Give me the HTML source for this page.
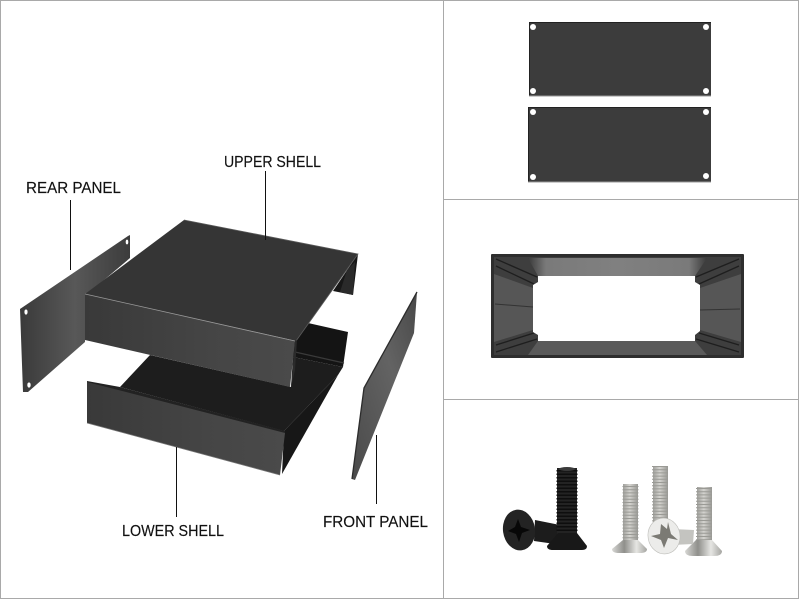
<!DOCTYPE html>
<html><head><meta charset="utf-8"><style>
html,body{margin:0;padding:0;background:#fff}
svg{display:block}
text{font-family:"Liberation Sans",sans-serif;font-size:15.500px;fill:#111;stroke:#111;stroke-width:.15}
</style></head><body>
<svg width="800" height="600" viewBox="0 0 800 600" xmlns="http://www.w3.org/2000/svg">
<defs>
<linearGradient id="rear" x1="0" y1="0" x2="1" y2="0"><stop offset="0" stop-color="#3a3a3a"/><stop offset=".5" stop-color="#585858"/><stop offset="1" stop-color="#3c3c3c"/></linearGradient>
<linearGradient id="face" x1="0" y1="0" x2="1" y2="0"><stop offset="0" stop-color="#393939"/><stop offset=".6" stop-color="#454545"/><stop offset="1" stop-color="#4a4a4a"/></linearGradient>
<linearGradient id="front" x1="0" y1="1" x2="1" y2="0"><stop offset="0" stop-color="#4a4a4a"/><stop offset=".6" stop-color="#636363"/><stop offset="1" stop-color="#484848"/></linearGradient>
<linearGradient id="tb" x1="0" y1="0" x2="1" y2="0"><stop offset="0" stop-color="#3a3a3a"/><stop offset=".1" stop-color="#7a7a7a"/><stop offset=".5" stop-color="#808080"/><stop offset=".9" stop-color="#7a7a7a"/><stop offset="1" stop-color="#3a3a3a"/></linearGradient>
<linearGradient id="silver" x1="0" y1="0" x2="1" y2="0"><stop offset="0" stop-color="#a0a09c"/><stop offset=".45" stop-color="#d4d3cf"/><stop offset="1" stop-color="#989894"/></linearGradient>
<linearGradient id="shead" x1="0" y1="0" x2="1" y2="0"><stop offset="0" stop-color="#d8d8d5"/><stop offset=".35" stop-color="#8f8f8b"/><stop offset=".7" stop-color="#e6e6e3"/><stop offset="1" stop-color="#a5a5a1"/></linearGradient>
</defs>

<!-- grid -->
<g stroke="#a9a9a9" stroke-width="1" fill="none">
<rect x="0.5" y="0.5" width="798" height="598"/>
<path d="M443.500 0V599M443 199.500H799M443 399.500H799"/>
</g>

<!-- rear panel -->
<polygon points="20,309 128,236 130,235 130,258 85,296 85,342 28,392 23,392" fill="url(#rear)"/>
<ellipse cx="26" cy="312" rx="1.600" ry="2.600" fill="#fff"/>
<ellipse cx="127" cy="242" rx="1.300" ry="2.400" fill="#fff"/>
<ellipse cx="29" cy="385" rx="1.700" ry="2.600" fill="#fff"/>

<!-- lower shell -->
<polygon points="308,323 348,332 343,367 293,357 293,343" fill="#141414"/>
<path d="M295 352L344 363" stroke="#3a3a3a" stroke-width="1.200"/>
<polygon points="150,355 291,387 293,357 343,367 338,375 284,431 120,387" fill="#1d1d1d"/>
<polygon points="284,431 338,375 282,474" fill="#171717"/>
<polygon points="87,381 120,387 285,431 285,435 87,384" fill="#222"/>
<polygon points="87,382 285,433 280,475 87,423" fill="url(#face)"/>
<line x1="87" y1="423" x2="280" y2="475" stroke="#777" stroke-width=".7"/>

<!-- upper shell -->
<polygon points="333,291 358,254 353,295" fill="#171717"/>
<polygon points="347,270 355,262 353,295 340,292" fill="#2a2a2a"/>
<polygon points="184,220 358,254 296,341 85,294" fill="#353535"/>
<polygon points="85,294 295,341 290,387 85,340" fill="url(#face)"/>
<polyline points="85,294 295,341" fill="none" stroke="#999" stroke-width=".8"/>
<polyline points="184,220 358,254 296,341" fill="none" stroke="#5c5c5c" stroke-width=".8"/>
<polygon points="295,341 297,340 295,370 291,387" fill="#2b2b2b"/>

<!-- front panel -->
<polygon points="417,292 414,333 355,480 352,479 364,388" fill="url(#front)"/>
<polyline points="417,292 364,388 352,479" fill="none" stroke="#2c2c2c" stroke-width="1.300"/>

<!-- leaders -->
<g stroke="#111" stroke-width="1">
<path d="M265.500 171V240M70.500 200V270M176.500 447V517M376.500 435V504"/>
</g>
<text x="224" y="167" textLength="97" lengthAdjust="spacingAndGlyphs">UPPER SHELL</text>
<text x="26" y="193" textLength="95" lengthAdjust="spacingAndGlyphs">REAR PANEL</text>
<text x="122" y="536" textLength="102" lengthAdjust="spacingAndGlyphs">LOWER SHELL</text>
<text x="323" y="527" textLength="105" lengthAdjust="spacingAndGlyphs">FRONT PANEL</text>

<!-- flat panels -->
<g>
<rect x="529" y="22" width="182" height="74" fill="#3c3c3c"/>
<path d="M529 22.500H711M529.500 22V96" stroke="#222" fill="none"/>
<path d="M529 96H711" stroke="#999" fill="none"/>
<rect x="528" y="107" width="183" height="75" fill="#3c3c3c"/>
<path d="M528 107.500H711M528.500 107V182" stroke="#222" fill="none"/>
<path d="M528 182H711" stroke="#999" fill="none"/>
<g fill="#fff">
<circle cx="533" cy="27" r="3"/><circle cx="706" cy="27" r="3"/><circle cx="533" cy="91" r="3"/><circle cx="706" cy="91" r="3"/>
<circle cx="533" cy="112" r="3"/><circle cx="706" cy="112" r="3"/><circle cx="533" cy="177" r="3"/><circle cx="706" cy="176" r="3"/>
</g>
</g>

<!-- box end view -->
<g>
<rect x="491" y="254" width="253" height="104" rx="1" fill="#2e2e2e"/>
<rect x="494" y="257" width="247" height="98" fill="#3e3e3e"/>
<polygon points="528,258 707,258 695,276 538,276" fill="url(#tb)"/>
<polygon points="538,341 695,341 707,355 528,355" fill="#5a5a5a"/>
<polygon points="494,274 533,288 533,330 494,342" fill="#565656"/>
<polygon points="741,274 700,288 700,330 741,342" fill="#565656"/>
<path d="M495 304L533 307M700 310L740 309" stroke="#333" stroke-width="1"/>
<g stroke="#1e1e1e" stroke-width="1.300" fill="none">
<path d="M496 259L537 277M496 266L534 284"/>
<path d="M739 259L696 277M739 266L699 284"/>
<path d="M496 352L537 339M496 345L534 333"/>
<path d="M739 352L696 339M739 345L699 333"/>
</g>
<polygon points="538,276 695,276 695,282 700,285 700,331 695,335 695,341 538,341 538,335 533,332 533,285 538,282" fill="#fff"/>
</g>

<!-- black screws -->
<g>
<polygon points="535,520 560,525 562,545 534,541" fill="#1c1c1c"/>
<rect x="557" y="468" width="20" height="66" fill="#232323"/>
<line x1="567" y1="470" x2="567" y2="533" stroke="#0e0e0e" stroke-width="21" stroke-dasharray="1.500 2"/>
<ellipse cx="567" cy="469" rx="8" ry="2" fill="#3a3a3a"/>
<path d="M558 533H577L587 546Q587 550 582 550H553Q547 550 547 546Z" fill="#181818"/>
<ellipse cx="519" cy="530" rx="16" ry="20.500" transform="rotate(-8 519 530)" fill="#232323"/>
<path d="M518 519L521 527L530 530L522 533L519 542L516 534L508 531L515 527Z" fill="#070707"/>
</g>

<!-- silver screws -->
<g>
<rect x="653" y="466" width="15" height="56" fill="url(#silver)"/>
<line x1="660" y1="466" x2="660" y2="522" stroke="#9a9a95" stroke-width="16" stroke-dasharray="1 2.200"/>
<rect x="623" y="484" width="15" height="57" fill="url(#silver)"/>
<line x1="630.500" y1="486" x2="630.500" y2="540" stroke="#9a9a95" stroke-width="16" stroke-dasharray="1 2.200"/>
<path d="M623 540H638L647 549Q647 553 640 553H619Q612 553 612 549Z" fill="url(#shead)"/>
<rect x="697" y="487" width="15" height="54" fill="url(#silver)"/>
<line x1="704" y1="488" x2="704" y2="540" stroke="#9a9a95" stroke-width="16" stroke-dasharray="1 2.200"/>
<path d="M696 540H712L722 551Q722 556 714 556H693Q685 556 685 551Z" fill="url(#shead)"/>
<polygon points="672,529 694,530 693,544 672,545" fill="#c4c4c0"/>
<ellipse cx="664" cy="536" rx="16" ry="18" transform="rotate(-10 664 536)" fill="#ececea" stroke="#bdbdb9" stroke-width=".6"/>
<path d="M661 524L667 529L668 522L671 534L678 540L668 538L664 548L661 540L651 536L660 534Z" fill="#7b7a74"/>
</g>
</svg>
</body></html>
